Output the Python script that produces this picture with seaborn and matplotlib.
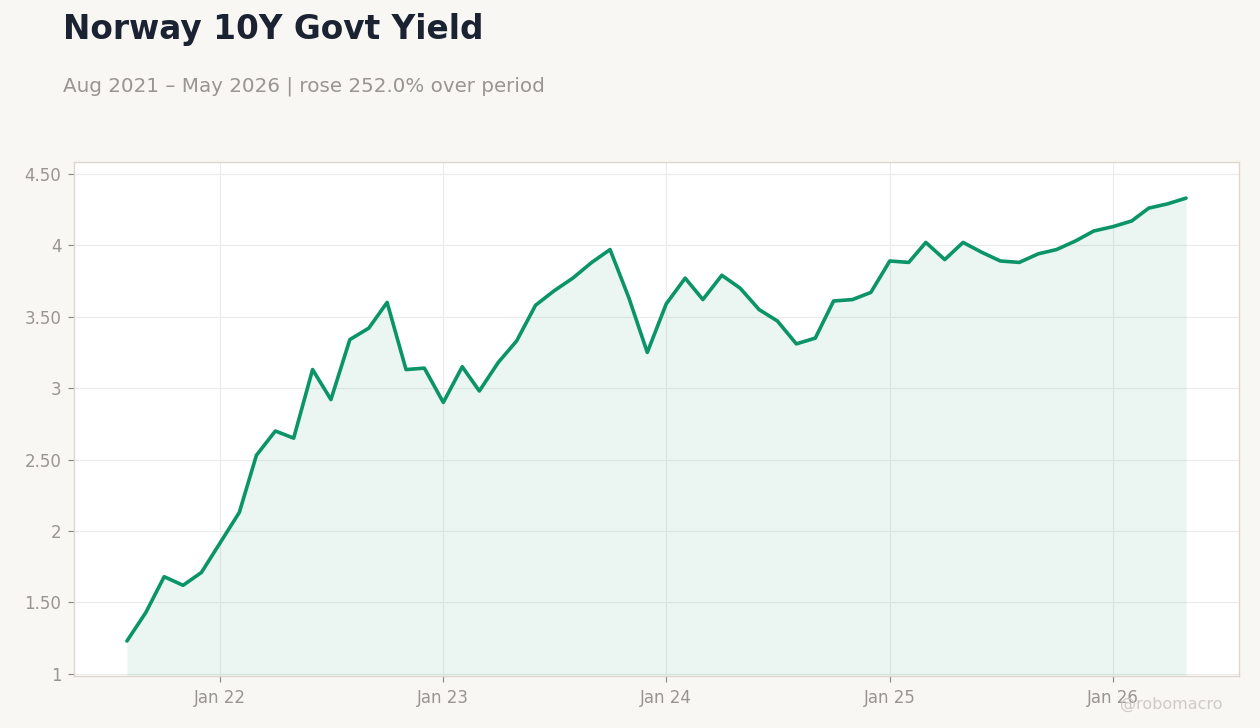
import matplotlib
matplotlib.use("Agg")
import matplotlib.pyplot as plt
import matplotlib.dates as mdates
import matplotlib.ticker as mticker
import pandas as pd
import seaborn as sns

# Monthly Norway 10Y govt yield, Aug 2021 - May 2026
start_month = "2021-08-01"
yields = [
    1.23, 1.43, 1.68, 1.62, 1.71,
    1.92, 2.13, 2.53, 2.70, 2.65, 3.13, 2.92, 3.34, 3.42, 3.60, 3.13, 3.14,
    2.90, 3.15, 2.98, 3.18, 3.33, 3.58, 3.68, 3.77, 3.88, 3.97, 3.63, 3.25,
    3.59, 3.77, 3.62, 3.79, 3.70, 3.55, 3.47, 3.31, 3.35, 3.61, 3.62, 3.67,
    3.89, 3.88, 4.02, 3.90, 4.02, 3.95, 3.89, 3.88, 3.94, 3.97, 4.03, 4.10,
    4.13, 4.17, 4.26, 4.29, 4.33,
]
title = "Norway 10Y Govt Yield"
subtitle = "Aug 2021 \u2013 May 2026 | rose 252.0% over period"
watermark = "@robomacro"

df = pd.DataFrame({
    "date": pd.date_range(start_month, periods=len(yields), freq="MS"),
    "value": yields,
})

bg = "#f8f7f4"
line_color = "#0a9467"
grey = "#999590"

sns.set_style("white")
plt.rcParams["font.family"] = ["DejaVu Sans"]
plt.rcParams["xtick.bottom"] = True
plt.rcParams["ytick.left"] = True

fig = plt.figure(figsize=(12.6, 7.28), dpi=100, facecolor=bg)
ax = fig.add_axes([0.0587, 0.0714, 0.9246, 0.7061])
ax.set_facecolor("white")

ymin, ymax = 0.985, 4.583
sns.lineplot(data=df, x="date", y="value", ax=ax, color=line_color, linewidth=2.6)
ax.fill_between(df["date"], df["value"], ymin, color=line_color, alpha=0.08, linewidth=0)

ax.set_ylim(ymin, ymax)
ax.margins(x=0.05)
ax.set_xlabel("")
ax.set_ylabel("")

# ticks
ax.set_yticks([1, 1.5, 2, 2.5, 3, 3.5, 4, 4.5])
ax.yaxis.set_major_formatter(mticker.FuncFormatter(
    lambda v, p: f"{v:g}" if float(v).is_integer() else f"{v:.2f}"))
ax.xaxis.set_major_locator(mdates.YearLocator(month=1))
ax.xaxis.set_major_formatter(mdates.DateFormatter("Jan %y"))
ax.tick_params(axis="both", which="major", colors="#8a8580", labelcolor=grey,
               labelsize=12, length=4, width=0.8, pad=5, bottom=True, left=True)

ax.grid(True, color="#ebebeb", linewidth=0.8)
ax.set_axisbelow(True)
for s in ax.spines.values():
    s.set_color("#ddd7ce")
    s.set_linewidth(1.0)

fig.text(0.05, 0.96, title, fontsize=23.6, fontweight="bold", color="#1b2333",
         ha="left", va="center")
fig.text(0.05, 0.882, subtitle, fontsize=14.3, color=grey, ha="left", va="center")
fig.text(0.97, 0.032, watermark, fontsize=11.5, color="#cfcbc6", ha="right", va="center")

fig.savefig("out.png", dpi=100, facecolor=bg)
